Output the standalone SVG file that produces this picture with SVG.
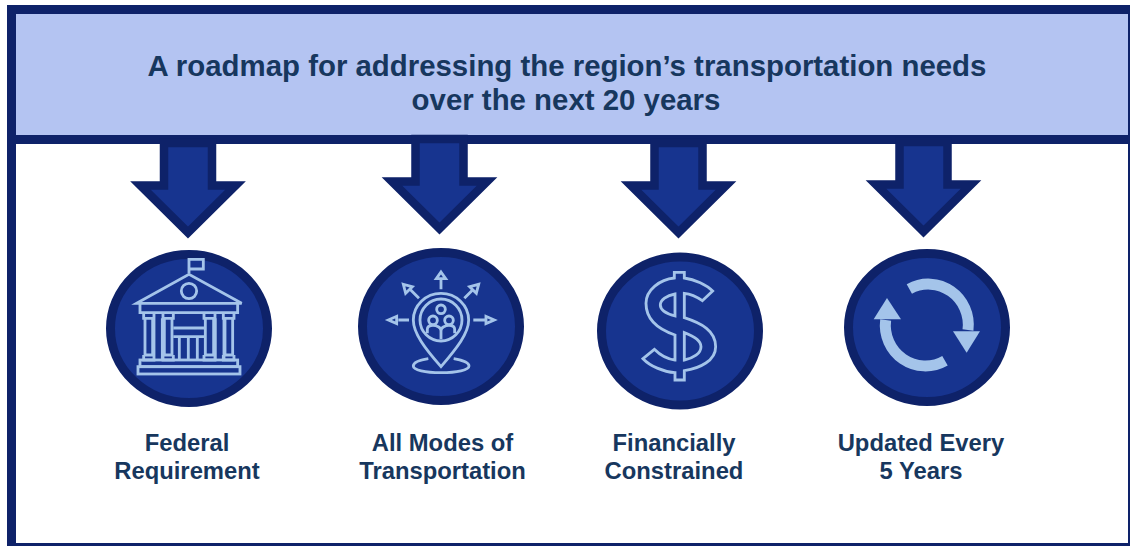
<svg xmlns="http://www.w3.org/2000/svg" width="1130" height="546" viewBox="0 0 1130 546">
<style>
text{font-family:"Liberation Sans",Arial,sans-serif;font-weight:700;fill:#17375E;text-anchor:middle}
.t{font-size:29.4px}.l{font-size:23.8px}
.frame{fill:#fff;stroke:#0E2269;stroke-width:9}
.head{fill:#B4C4F2;stroke:#0E2269;stroke-width:9}
.arrow{fill:#17348F;stroke:#0E2269;stroke-width:8.5;stroke-miterlimit:10}
.disc{fill:#17348F;stroke:#0E2269;stroke-width:9}
.ic{fill:none;stroke:#A4C4EA;stroke-width:8.500;stroke-linejoin:miter}
.so{fill:#A4C4EA}
</style>
<defs>
<path id="arr" d="M-24 0V42.500H-47.500L0 89.500L47.500 42.500H24V0Z" class="arrow"/>
</defs>
<rect x="0" y="0" width="1130" height="546" fill="#fff"/>
<g id="frame">
<rect class="frame" x="11.500" y="9.500" width="1121" height="538"/>
<rect class="head" x="11.500" y="9.500" width="1121" height="130"/>
<text class="t" x="567" y="76">A roadmap for addressing the region’s transportation needs</text>
<text class="t" x="566" y="110">over the next 20 years</text>
</g>
<g id="connectors">
<use href="#arr" x="188" y="143"/>
<use href="#arr" x="439.500" y="139"/>
<use href="#arr" x="678.500" y="143"/>
<use href="#arr" x="923.500" y="142"/>
</g>
<g id="node-federal">
<ellipse class="disc" cx="189" cy="328.500" rx="78.500" ry="74"/>
<g transform="translate(90 240) scale(.3333)" class="ic">
<path d="M297 100V58H340V87H297"/>
<path d="M140 190L297 103L455 190Z"/>
<circle cx="297" cy="153" r="23"/>
<path d="M150 190V218H443V190"/>
<path d="M161 218V235H192V218M165 235V345H188V235M161 345V360H192V345M192 235V360M217 235V360"/>
<path d="M219 218V235H250V218M223 235V345H246V235M219 345V360H250V345"/>
<path d="M342 218V235H375V218M346 235V345H371V235M342 345V360H375V345M376 235V360M402 235V360"/>
<path d="M400 218V235H432V218M405 235V345H428V235M400 345V360H432V345"/>
<path d="M250 264H342M250 290H342M268 290V360M295 290V360M322 290V360"/>
<rect x="150" y="360" width="293" height="20"/>
<rect x="144" y="380" width="306" height="22"/>
</g>
</g>
<g id="node-modes">
<ellipse class="disc" cx="441" cy="326.500" rx="78.500" ry="74"/>
<g transform="translate(345 240) scale(.3333)" class="ic">
<path d="M288 380C240 325 205 280 205 240A83 80 0 0 1 371 240C371 280 335 325 288 380Z"/>
<circle cx="288" cy="240" r="63"/>
<circle cx="288" cy="208" r="13"/>
<circle cx="264" cy="241" r="13"/>
<circle cx="312" cy="241" r="13"/>
<path d="M247 280V268C247 258 255 256 264 256C274 256 288 262 288 272V298M329 280V268C329 258 321 256 312 256C302 256 288 262 288 272"/>
<path d="M250 356C225 360 205 368 205 378C205 390 240 398 288 398C336 398 372 390 372 378C372 368 350 360 326 356"/>
<path d="M288 148V118M222 175L195 148M358 175L385 148M192 240H160M385 240H420"/>
<path d="M288 96L302 116H274Z M175 133L202 140L182 160Z M401 133L394 160L374 140Z M130 240L155 229V251Z M448 240L423 229V251Z"/>
</g>
</g>
<g id="node-financial">
<ellipse class="disc" cx="680" cy="331" rx="78.500" ry="74"/>
<g transform="translate(585 240) scale(.3333)" class="ic">
<path d="M268 97H298V114C330 118 365 135 383 153L352 182C335 170 318 162 298 160V233C350 250 392 272 392 320C392 362 345 385 298 392V420H270V398C235 396 195 378 174 356L208 328C225 345 248 358 270 360V285C225 270 183 245 183 190C183 150 225 118 268 114Z"/>
<path d="M270 162V228C240 220 226 208 226 195C226 180 245 166 270 162Z"/>
<path d="M298 278V360C325 355 348 340 348 320C348 302 325 288 298 278Z"/>
</g>
</g>
<g id="node-updated">
<ellipse class="disc" cx="927" cy="327.500" rx="78.500" ry="74"/>
<g transform="translate(830 240) scale(.3333)">
<path d="M238 147A120 122 0 0 1 414 270" fill="none" stroke="#A4C4EA" stroke-width="33"/>
<path d="M369 274H450L410 338Z" class="so"/>
<path d="M345 362A120 122 0 0 1 167 240" fill="none" stroke="#A4C4EA" stroke-width="33"/>
<path d="M131 238H213L171 174Z" class="so"/>
</g>
</g>
<g id="labels">
<text class="l" x="187" y="451">Federal</text>
<text class="l" x="187" y="479">Requirement</text>
<text class="l" x="442.500" y="451">All Modes of</text>
<text class="l" x="442.500" y="479">Transportation</text>
<text class="l" x="674" y="451">Financially</text>
<text class="l" x="674" y="479">Constrained</text>
<text class="l" x="921" y="451">Updated Every</text>
<text class="l" x="921" y="479">5 Years</text>
</g>
</svg>
